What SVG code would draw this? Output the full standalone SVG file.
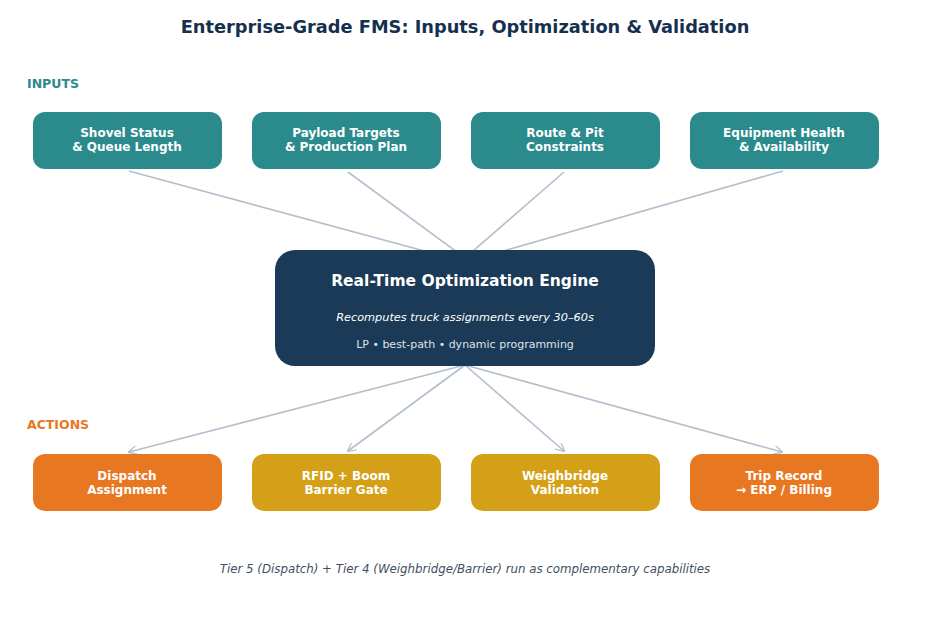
<svg xmlns="http://www.w3.org/2000/svg" width="930" height="617" viewBox="0 0 930 617">
<style>
text{font-family:"DejaVu Sans","Liberation Sans",sans-serif;text-anchor:middle}
.nt{fill:#fff;font-weight:bold;font-size:12px}
.c{stroke:#b4bfcc;stroke-width:1.6;fill:none}
</style>
<defs><marker id="a" viewBox="0 0 10 10" refX="9" refY="5" markerWidth="9" markerHeight="9" orient="auto" markerUnits="userSpaceOnUse"><path d="M0,0L10,5L0,10" fill="none" stroke="#b4bfcc" stroke-width="1.4"/></marker></defs>
<rect width="930" height="617" fill="#fff"/>
<text x="465" y="33" font-size="17.8" font-weight="bold" fill="#15304f">Enterprise-Grade FMS: Inputs, Optimization &amp; Validation</text>
<text x="27" y="88" font-size="12.5" font-weight="bold" fill="#2a8a8c" style="text-anchor:start">INPUTS</text>
<text x="27" y="429" font-size="12.5" font-weight="bold" fill="#e87722" style="text-anchor:start">ACTIONS</text>
<g id="connectors">
<line class="c" x1="129" y1="171" x2="465" y2="262"/>
<line class="c" x1="348" y1="172" x2="465" y2="258"/>
<line class="c" x1="564" y1="172" x2="465" y2="258"/>
<line class="c" x1="783" y1="171" x2="465" y2="262"/>
<line class="c" x1="465" y1="365" x2="129" y2="452" marker-end="url(#a)"/>
<line class="c" x1="465" y1="365" x2="348" y2="451" marker-end="url(#a)"/>
<line class="c" x1="465" y1="365" x2="564" y2="451" marker-end="url(#a)"/>
<line class="c" x1="465" y1="365" x2="782" y2="452" marker-end="url(#a)"/>
</g>
<g id="in1"><rect x="33" y="112" width="189" height="57" rx="12" fill="#2a8a8c"/><text class="nt" x="127" y="137">Shovel Status</text><text class="nt" x="127" y="151">&amp; Queue Length</text></g>
<g id="in2"><rect x="252" y="112" width="189" height="57" rx="12" fill="#2a8a8c"/><text class="nt" x="346" y="137">Payload Targets</text><text class="nt" x="346" y="151">&amp; Production Plan</text></g>
<g id="in3"><rect x="471" y="112" width="189" height="57" rx="12" fill="#2a8a8c"/><text class="nt" x="565" y="137">Route &amp; Pit</text><text class="nt" x="565" y="151">Constraints</text></g>
<g id="in4"><rect x="690" y="112" width="189" height="57" rx="12" fill="#2a8a8c"/><text class="nt" x="784" y="137">Equipment Health</text><text class="nt" x="784" y="151">&amp; Availability</text></g>
<g id="engine"><rect x="275" y="250" width="380" height="116" rx="20" fill="#1b3a57"/>
<text x="465" y="286" font-size="15.5" font-weight="bold" fill="#fff">Real-Time Optimization Engine</text>
<text x="465" y="321" font-size="11.3" font-style="italic" fill="#fff">Recomputes truck assignments every 30–60s</text>
<text x="465" y="348" font-size="11" fill="#dde3ea">LP • best-path • dynamic programming</text></g>
<g id="out1"><rect x="33" y="454" width="189" height="57" rx="12" fill="#e87722"/><text class="nt" x="127" y="480">Dispatch</text><text class="nt" x="127" y="494">Assignment</text></g>
<g id="out2"><rect x="252" y="454" width="189" height="57" rx="12" fill="#d4a017"/><text class="nt" x="346" y="480">RFID + Boom</text><text class="nt" x="346" y="494">Barrier Gate</text></g>
<g id="out3"><rect x="471" y="454" width="189" height="57" rx="12" fill="#d4a017"/><text class="nt" x="565" y="480">Weighbridge</text><text class="nt" x="565" y="494">Validation</text></g>
<g id="out4"><rect x="690" y="454" width="189" height="57" rx="12" fill="#e87722"/><text class="nt" x="784" y="480">Trip Record</text><text class="nt" x="784" y="494">→ ERP / Billing</text></g>
<text x="465" y="573" font-size="11.8" font-style="italic" fill="#3f4f63">Tier 5 (Dispatch) + Tier 4 (Weighbridge/Barrier) run as complementary capabilities</text>
</svg>
